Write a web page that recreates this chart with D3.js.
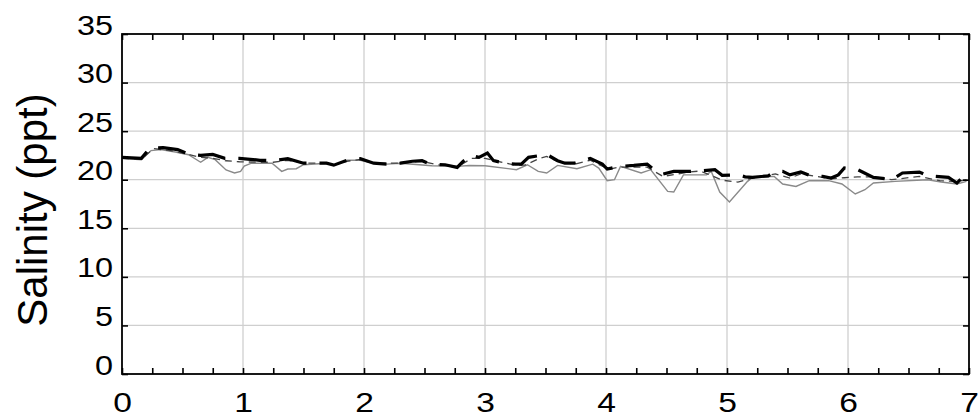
<!DOCTYPE html>
<html>
<head>
<meta charset="utf-8">
<script src="https://cdn.jsdelivr.net/npm/d3@7"></script>
<style>
  html, body { margin: 0; padding: 0; background: #fff; }
  svg { display: block; }
  text { font-family: "Liberation Sans", Arial, Helvetica, sans-serif; fill: #000; }
</style>
</head>
<body>
<svg id="chart" width="979" height="417"></svg>
<script>
// ---- data (time in days, salinity in ppt) ----
const xTickLabels = [0, 1, 2, 3, 4, 5, 6, 7];
const yTickLabels = [0, 5, 10, 15, 20, 25, 30, 35];

const thickTime = [0.00,0.16,0.23,0.34,0.46,0.56,0.65,0.75,0.85,0.97,1.11,1.14,1.25,1.37,1.50,1.69,1.75,1.86,1.97,2.08,2.19,2.30,2.40,2.48,2.55,2.67,2.77,2.82,2.89,2.95,3.02,3.07,3.17,3.25,3.30,3.36,3.51,3.60,3.66,3.74,3.87,3.97,4.01,4.11,4.23,4.34,4.40,4.47,4.56,4.69,4.78,4.90,4.96,5.09,5.15,5.21,5.34,5.40,5.46,5.52,5.61,5.69,5.79,5.86,5.92,5.97,6.08,6.21,6.31,6.36,6.45,6.59,6.66,6.72,6.83,6.90,6.94,6.98];
const thickValue = [22.3,22.2,23.26,23.3,23.1,22.6,22.5,22.6,22.2,22.2,22.05,22.0,21.96,22.16,21.7,21.7,21.5,22.0,22.16,21.7,21.6,21.7,21.9,21.96,21.6,21.54,21.27,21.9,22.5,22.3,22.74,21.96,21.7,21.6,21.6,22.3,22.6,21.96,21.7,21.7,22.2,21.6,21.1,21.37,21.47,21.6,21.0,20.58,20.86,20.86,20.9,21.03,20.45,20.5,20.3,20.24,20.4,20.86,20.86,20.5,20.79,20.4,20.34,20.17,20.5,21.2,21.03,20.24,20.1,20.0,20.69,20.79,20.4,20.34,20.24,19.66,20.17,20.0];

const dashTime = [0.00,0.16,0.26,0.40,0.55,0.65,0.75,0.86,0.97,1.11,1.25,1.37,1.50,1.69,1.75,1.86,1.97,2.08,2.30,2.48,2.60,2.77,2.89,3.00,3.10,3.25,3.33,3.45,3.51,3.60,3.74,3.87,3.97,4.03,4.11,4.34,4.47,4.69,4.78,4.96,5.09,5.21,5.40,5.52,5.61,5.86,5.97,6.08,6.21,6.36,6.59,6.76,6.90,6.98];
const dashValue = [22.2,22.1,23.2,23.0,22.6,22.3,22.2,21.95,21.85,21.8,21.8,22.0,21.7,21.7,21.5,21.9,22.1,21.7,21.7,21.9,21.55,21.3,22.2,22.2,21.9,21.5,21.5,22.2,22.4,21.9,21.6,22.0,21.4,21.1,21.3,21.3,20.34,20.8,20.9,19.95,19.76,20.17,20.6,20.17,20.6,20.1,20.2,20.3,20.3,20.0,20.34,19.9,19.8,20.0];

const grayTime = [0.00,0.16,0.24,0.32,0.44,0.55,0.65,0.71,0.77,0.86,0.93,0.98,1.01,1.07,1.17,1.24,1.32,1.37,1.44,1.50,1.69,1.75,1.86,1.97,2.08,2.19,2.30,2.56,2.77,2.87,3.00,3.26,3.35,3.44,3.51,3.60,3.76,3.89,3.94,4.01,4.07,4.12,4.29,4.37,4.51,4.56,4.64,4.76,4.83,4.87,4.94,5.02,5.17,5.21,5.39,5.46,5.57,5.68,5.84,5.95,6.06,6.14,6.21,6.39,6.66,6.77,6.90,6.98];
const grayValue = [22.2,22.06,23.0,23.1,22.85,22.57,21.8,22.3,22.06,21.0,20.7,20.85,21.4,21.7,21.7,21.7,20.86,21.1,21.13,21.54,21.7,21.5,22.0,22.0,21.7,21.6,21.7,21.44,21.37,21.47,21.44,21.03,21.54,20.86,20.69,21.47,21.13,21.6,21.2,19.9,20.0,21.37,20.69,21.03,18.8,18.73,20.5,20.5,20.5,20.86,18.73,17.7,19.83,20.24,20.34,19.56,19.3,19.9,19.9,19.56,18.53,18.97,19.66,19.83,20.0,19.76,19.56,19.83];

const yAxisTitle = "Salinity (ppt)";

// ---- layout ----
const svg = d3.select("#chart");
const mLeft = 122, mRight = 969, mTop = 34, mBottom = 374;
const x = d3.scaleLinear().domain([0, 7]).range([mLeft, mRight]);
const y = d3.scaleLinear().domain([0, 35]).range([mBottom, mTop]);

// grid
const grid = svg.append("g");
grid.selectAll("line.vx").data(xTickLabels.filter(d => d > 0 && d < 7)).join("line")
  .attr("x1", d => x(d)).attr("x2", d => x(d)).attr("y1", mTop).attr("y2", mBottom)
  .attr("stroke", "#cfcfcf").attr("stroke-width", 1.3);
grid.selectAll("line.hy").data(yTickLabels.filter(d => d > 0 && d < 35)).join("line")
  .attr("x1", mLeft).attr("x2", mRight).attr("y1", d => y(d)).attr("y2", d => y(d))
  .attr("stroke", "#cfcfcf").attr("stroke-width", 1.3);

// lines
const line = d3.line().x(d => x(d[0])).y(d => y(d[1])).curve(d3.curveLinear);
const zip = (a, b) => a.map((t, i) => [t, b[i]]);

svg.append("path").datum(zip(grayTime, grayValue)).attr("d", line)
  .attr("fill", "none").attr("stroke", "#8a8a8a").attr("stroke-width", 1.4);
svg.append("path").datum(zip(dashTime, dashValue)).attr("d", line)
  .attr("fill", "none").attr("stroke", "#444").attr("stroke-width", 1.3)
  .attr("stroke-dasharray", "7,5");
svg.append("path").datum(zip(thickTime, thickValue)).attr("d", line)
  .attr("fill", "none").attr("stroke", "#000").attr("stroke-width", 3.2)
  .attr("stroke-dasharray", "28,13");

// axes ticks (inward)
const minorX = d3.range(0, 7.001, 0.25);
const tickStyle = g => {
  g.select(".domain").remove();
  g.selectAll(".tick line").attr("stroke", "#000").attr("stroke-width", 1.6);
  g.selectAll(".tick text").remove();
};
svg.append("g").attr("transform", `translate(0,${mBottom})`)
  .call(d3.axisBottom(x).tickValues(minorX).tickSize(-6)).call(tickStyle);
svg.append("g").attr("transform", `translate(0,${mTop})`)
  .call(d3.axisTop(x).tickValues(minorX).tickSize(-6)).call(tickStyle);
svg.append("g").attr("transform", `translate(${mLeft},0)`)
  .call(d3.axisLeft(y).tickValues(yTickLabels).tickSize(-6)).call(tickStyle);
svg.append("g").attr("transform", `translate(${mRight},0)`)
  .call(d3.axisRight(y).tickValues(yTickLabels).tickSize(-6)).call(tickStyle);

// frame
svg.append("rect").attr("x", mLeft).attr("y", mTop).attr("width", mRight - mLeft).attr("height", mBottom - mTop)
  .attr("fill", "none").attr("stroke", "#000").attr("stroke-width", 1.8);

// tick labels
const sx = 1.2;
const xl = svg.append("g").attr("transform", `translate(0,${mBottom})`)
  .call(d3.axisBottom(x).tickValues(xTickLabels).tickSize(0).tickFormat(d3.format("d")));
xl.select(".domain").remove();
xl.selectAll(".tick text")
  .attr("y", 38).attr("dy", 0)
  .style("font-size", "28px")
  .attr("transform", `scale(${sx},1)`);

const yl = svg.append("g").attr("transform", `translate(${mLeft},0)`)
  .call(d3.axisLeft(y).tickValues(yTickLabels).tickSize(0).tickFormat(d3.format("d")));
yl.select(".domain").remove();
yl.selectAll(".tick text")
  .attr("x", -9 / sx).attr("dy", 0).attr("y", 0)
  .style("font-size", "27px")
  .attr("transform", `scale(${sx},1)`);

// y axis title
svg.append("text")
  .attr("transform", `translate(47,${(mTop + mBottom) / 2 + 6}) rotate(-90)`)
  .attr("text-anchor", "middle")
  .style("font-size", "42px")
  .text(yAxisTitle);
</script>
</body>
</html>
